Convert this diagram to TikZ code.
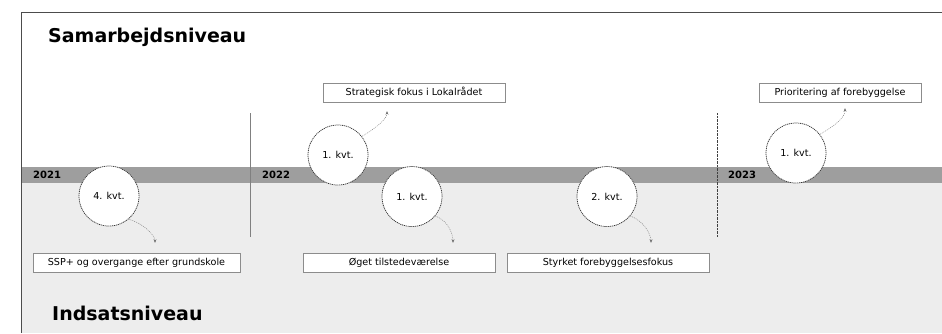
\documentclass[tikz,border=0pt]{standalone}
\usepackage{fontspec}
\setmainfont{DejaVu Sans}
\usetikzlibrary{calc}
\usetikzlibrary{positioning}
\usetikzlibrary{arrows.meta}

\begin{document}
\begin{tikzpicture}[x=1pt, y=1pt, font=\fontsize{9.6}{11}\selectfont,
    kvt/.style={circle, draw=black!80, line width=0.75pt, dash pattern=on 1.1pt off 0.8pt, fill=white, minimum size=60pt, inner sep=0pt},
    tiltag/.style={draw=black!45, fill=white, minimum height=19pt, inner sep=0pt},
    pil/.style={black!55, dash pattern=on 1pt off 1pt, -{Stealth[length=3.5pt, width=3pt]}}]

    \useasboundingbox (0, 0) rectangle (942, -333);

    % lower half
    \fill[black!7] (21, -183) rectangle (942, -333);

    % time band
    \fill[black!38] (21, -167) rectangle (942, -183);

    % outer frame
    \draw[black!70] (942, -12) -- (21, -12) -- (21, -333);

    % year separators
    \draw[black!50] (250, -113) -- (250, -237);
    \draw[black!75, densely dotted] (717, -113) -- (717, -237);

    % years
    \foreach \x / \aar in {33 / 2021, 262 / 2022, 728 / 2023}
    \node[anchor=west, inner sep=0pt, font=\fontsize{10}{12}\selectfont\bfseries] (y\aar) at (\x, -175) {\aar};

    % level titles
    \node[anchor=base west, inner sep=0pt, font=\fontsize{19}{22}\selectfont\bfseries] (samarbejde) at (48, -42) {Samarbejdsniveau};
    \node[anchor=base west, inner sep=0pt, font=\fontsize{19}{22}\selectfont\bfseries] (indsats) at (52, -320) {Indsatsniveau};

    % quarters
    \node[kvt] (k21) at (109, -196) {4. kvt.};
    \node[kvt] (k22a) at (338, -155) {1. kvt.};
    \node[kvt] (k22b) at (412, -196.5) {1. kvt.};
    \node[kvt] (k22c) at (607, -196.5) {2. kvt.};
    \node[kvt] (k23) at (796, -153) {1. kvt.};

    % actions
    \node[tiltag, minimum width=182pt] (strategi) at (414, -92.5) {Strategisk fokus i Lokalrådet};
    \node[tiltag, minimum width=162pt] (prioritet) at (840, -92.5) {Prioritering af forebyggelse};
    \node[tiltag, minimum width=207pt] (ssp) at (136.5, -262.5) {SSP+ og overgange efter grundskole};
    \node[tiltag, minimum width=192pt] (tilstede) at (399, -262.5) {Øget tilstedeværelse};
    \node[tiltag, minimum width=202pt] (styrket) at (608, -262.5) {Styrket forebyggelsesfokus};

    % connectors
    \draw[pil, shorten >=10pt] (k21.-50) to[out=-15, in=90] ([xshift=18.5pt]ssp.north);
    \draw[pil, shorten >=10pt] (k22b.-40) to[out=-20, in=90] ([xshift=54pt]tilstede.north);
    \draw[pil, shorten >=10pt] (k22c.-40) to[out=-20, in=90] ([xshift=43pt]styrket.north);
    \draw[pil, shorten >=9pt] (k22a.38) to[out=30, in=-90] ([xshift=-27pt]strategi.south);
    \draw[pil, shorten >=6pt] (k23.38) to[out=30, in=-90] ([xshift=5pt]prioritet.south);

\end{tikzpicture}
\end{document}
